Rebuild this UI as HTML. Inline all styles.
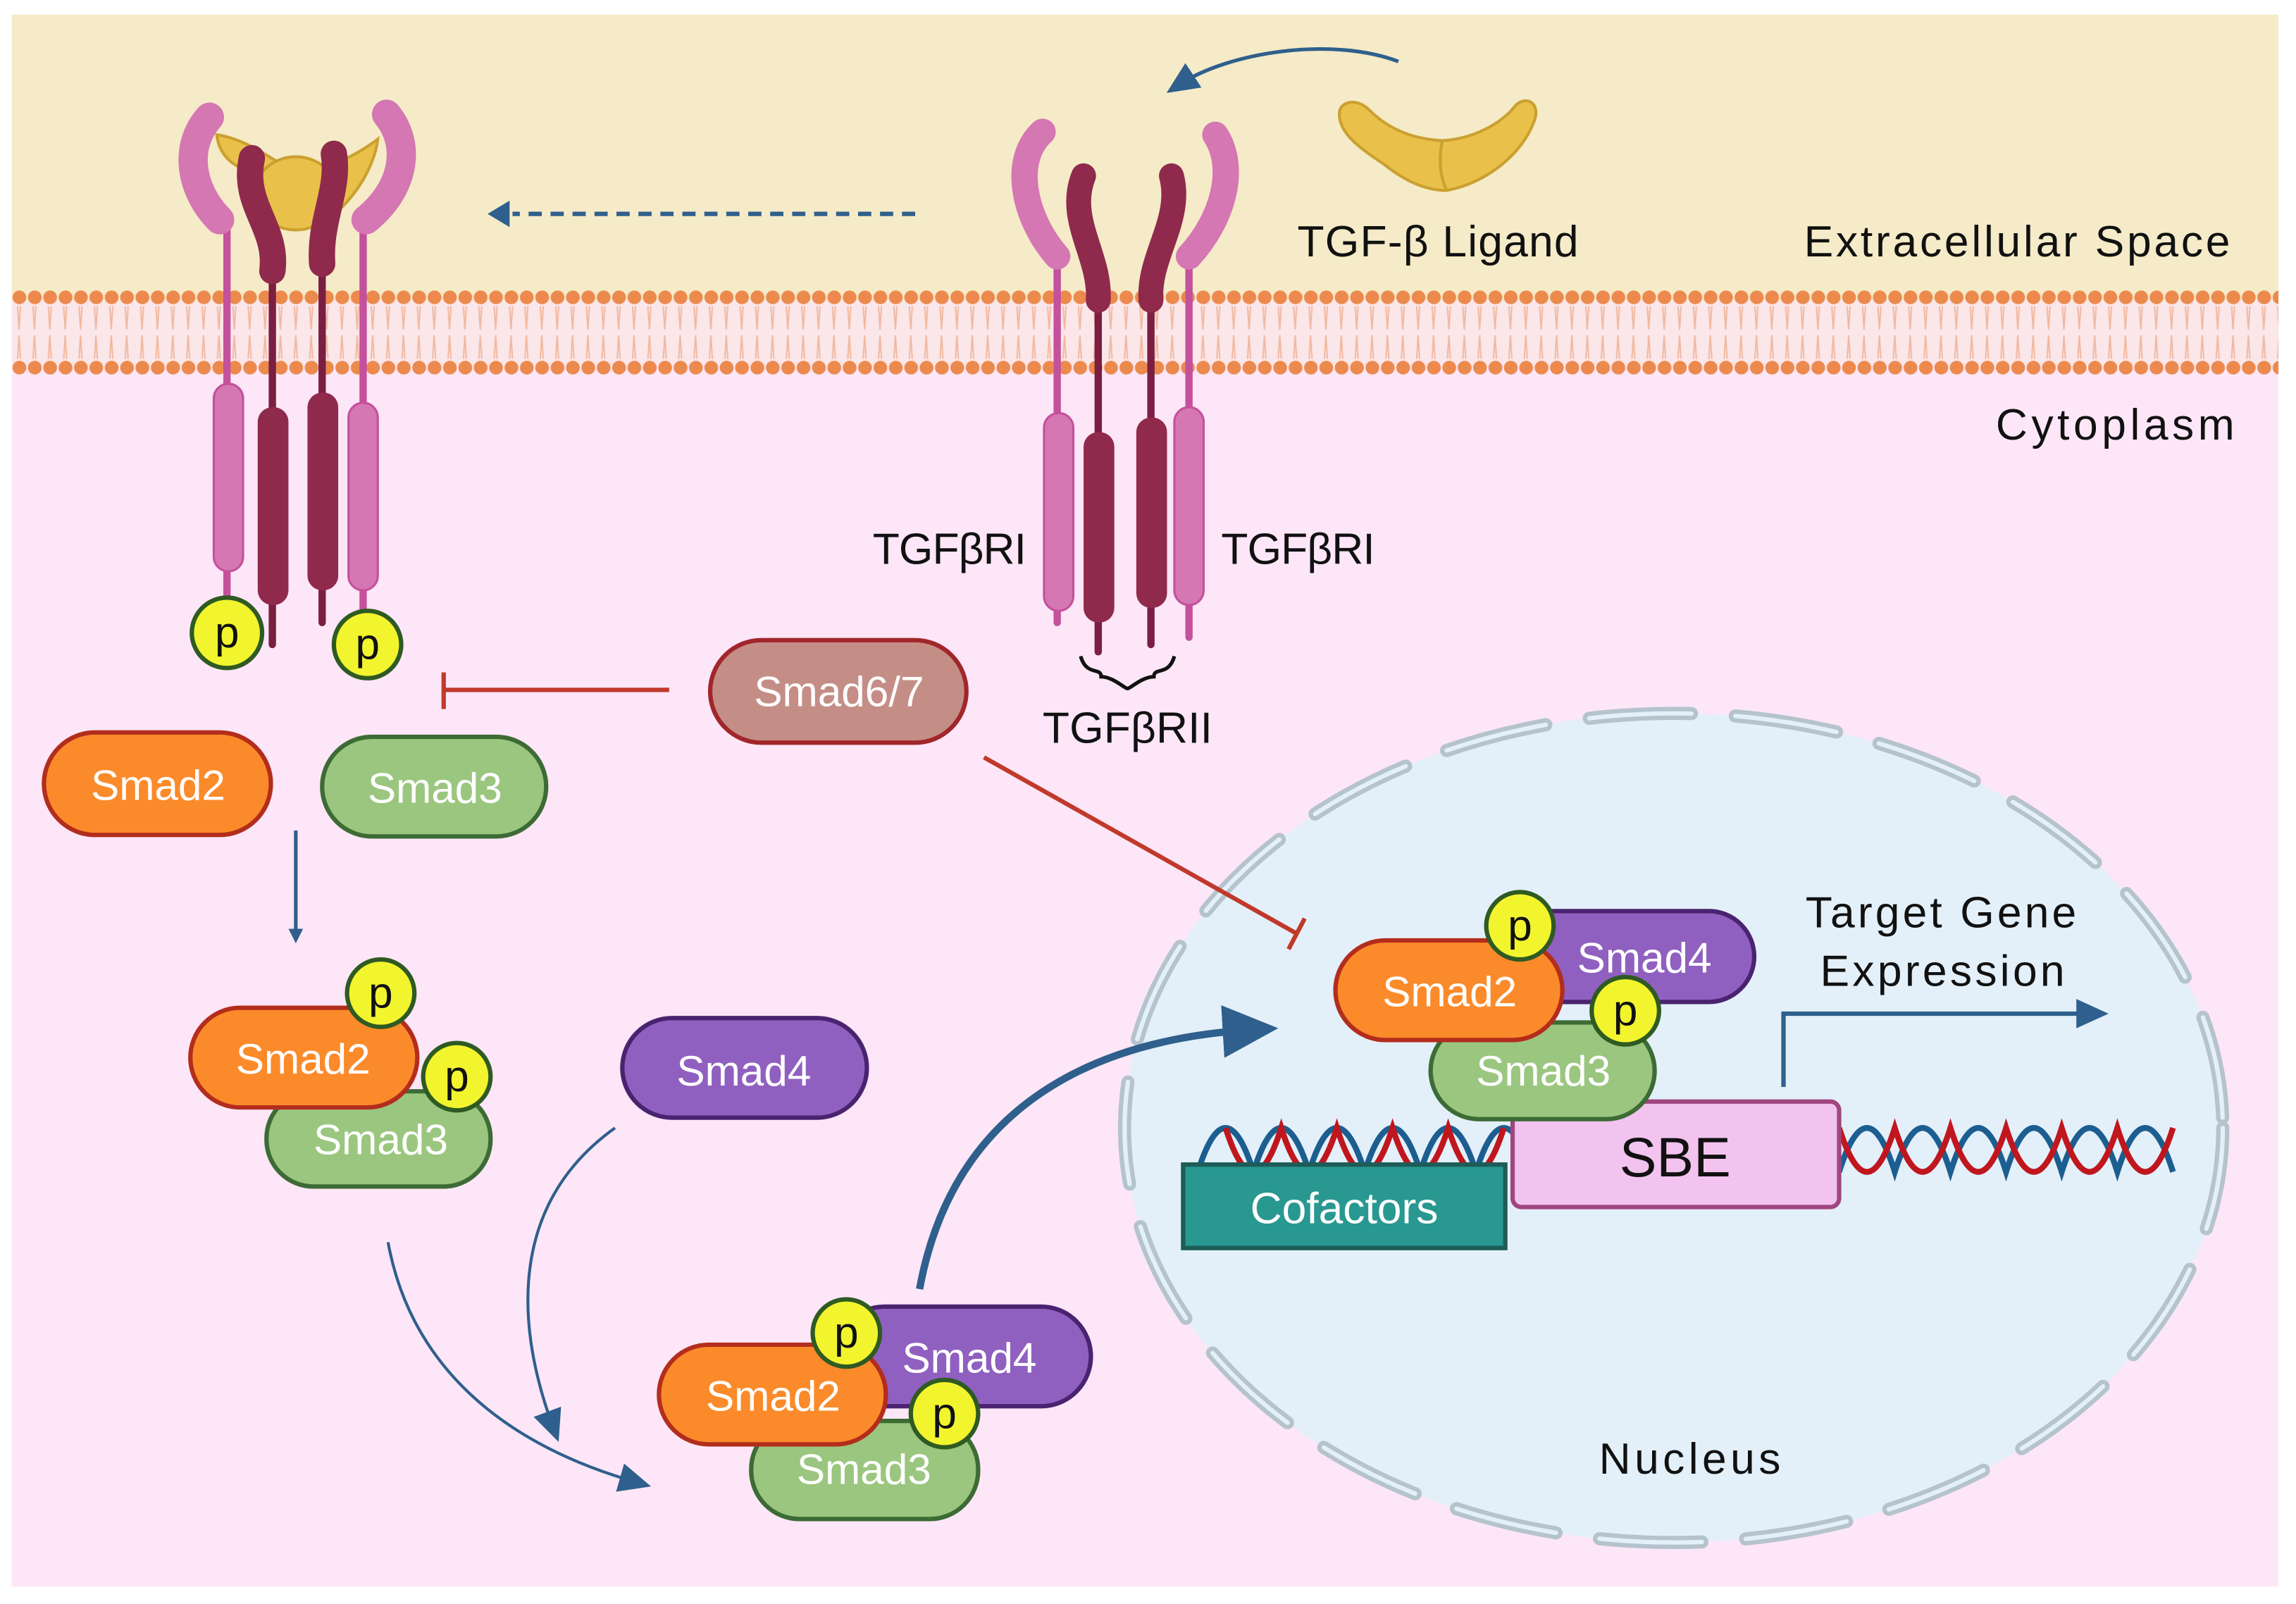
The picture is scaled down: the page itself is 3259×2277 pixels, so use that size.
<!DOCTYPE html>
<html><head><meta charset="utf-8"><style>html,body{margin:0;padding:0;background:#fff}svg{display:block}text{font-family:"Liberation Sans",sans-serif}</style></head><body>
<svg width="3259" height="2277" viewBox="0 0 1568 1095" preserveAspectRatio="none" xmlns="http://www.w3.org/2000/svg">
<defs>
<pattern id="lip" x="8" y="197" width="10.5" height="12" patternUnits="userSpaceOnUse">
<circle cx="5.25" cy="6" r="4.7" fill="#ec8a4e"/>
</pattern>
<pattern id="lip2" x="8" y="245" width="10.5" height="12" patternUnits="userSpaceOnUse">
<circle cx="5.25" cy="6" r="4.7" fill="#ec8a4e"/>
</pattern>
<pattern id="tail" x="8" y="209" width="10.5" height="36" patternUnits="userSpaceOnUse">
<path d="M4,0 L5,16 L6,0 M4,36 L5,20 L6,36" stroke="#f2b9a0" stroke-width="1" fill="none"/>
</pattern>
<marker id="ah" markerWidth="10" markerHeight="10" refX="6" refY="5" orient="auto" markerUnits="userSpaceOnUse"><path d="M0,0 L10,5 L0,10 Z" fill="#2f5f8c"/></marker>
<marker id="ahb" markerWidth="40" markerHeight="40" refX="20" refY="20" orient="auto" markerUnits="userSpaceOnUse"><path d="M0,2 L38,20 L0,38 Z" fill="#2f5f8c"/></marker>
<marker id="ahm" markerWidth="24" markerHeight="24" refX="12" refY="12" orient="auto" markerUnits="userSpaceOnUse"><path d="M0,2 L22,12 L0,22 Z" fill="#2f5f8c"/></marker>
</defs>
<rect x="8" y="10" width="1548" height="1073" fill="#fce6f7"/>
<rect x="8" y="10" width="1548" height="195" fill="#f5ebc8"/>
<!-- membrane -->
<rect x="8" y="205" width="1548" height="45" fill="#fbe6ea"/>
<rect x="8" y="209" width="1548" height="36" fill="url(#tail)"/>
<rect x="8" y="197" width="1548" height="12" fill="url(#lip)"/>
<rect x="8" y="245" width="1548" height="12" fill="url(#lip2)"/>
<!-- nucleus -->
<ellipse cx="1143" cy="770" rx="375" ry="283" fill="#e3f0f9"/>
<ellipse cx="1143" cy="770" rx="375" ry="283" fill="none" stroke="#b5c3cd" stroke-width="9" stroke-dasharray="70 30" stroke-linecap="round"/>
<ellipse cx="1143" cy="770" rx="375" ry="283" fill="none" stroke="#e3f0f9" stroke-width="3" stroke-dasharray="70 30" stroke-linecap="round"/>
<!-- left receptor complex -->
<g stroke-linecap="round" fill="none">
<line x1="155" y1="150" x2="155" y2="415" stroke="#c4519b" stroke-width="5"/>
<line x1="248" y1="150" x2="248" y2="420" stroke="#c4519b" stroke-width="5"/>
<line x1="186" y1="180" x2="186" y2="440" stroke="#7a1e42" stroke-width="5"/>
<line x1="220" y1="180" x2="220" y2="425" stroke="#7a1e42" stroke-width="5"/>
<path d="M143,80 C125,100 130,130 150,150" stroke="#d577b3" stroke-width="20"/>
<path d="M264,78 C282,100 275,130 250,150" stroke="#d577b3" stroke-width="20"/>
</g>
<path d="M148,92 C150,110 165,118 185,120 C200,125 205,145 212,155 C232,150 255,120 258,95 C245,105 225,115 205,120 C190,112 170,95 148,92 Z" fill="#e9c14a" stroke="#caa030" stroke-width="2"/>
<ellipse cx="202" cy="132" rx="28" ry="25" fill="#e9c14a" stroke="#caa030" stroke-width="2"/>
<g stroke-linecap="round" fill="none" stroke="#8f2a4c" stroke-width="18">
<path d="M172,108 C165,140 190,155 186,185"/>
<path d="M228,105 C232,130 218,150 220,180"/>
</g>
<g fill="#d577b3" stroke="#c4519b" stroke-width="1.5">
<rect x="146" y="262" width="20" height="128" rx="10"/>
<rect x="238" y="275" width="20" height="128" rx="10"/>
</g>
<g fill="#8f2a4c">
<rect x="176" y="278" width="21" height="135" rx="10"/>
<rect x="210" y="268" width="21" height="135" rx="10"/>
</g>
<!-- right receptor -->
<g stroke-linecap="round" fill="none">
<line x1="722" y1="170" x2="722" y2="425" stroke="#c4519b" stroke-width="5"/>
<line x1="812" y1="170" x2="812" y2="435" stroke="#c4519b" stroke-width="5"/>
<line x1="750" y1="200" x2="750" y2="445" stroke="#7a1e42" stroke-width="5"/>
<line x1="786" y1="200" x2="786" y2="440" stroke="#7a1e42" stroke-width="5"/>
<path d="M712,90 C690,110 700,150 722,175" stroke="#d577b3" stroke-width="18"/>
<path d="M830,92 C845,115 835,150 812,175" stroke="#d577b3" stroke-width="18"/>
</g>
<g stroke-linecap="round" fill="none" stroke="#8f2a4c" stroke-width="17">
<path d="M740,120 C728,150 752,175 750,205"/>
<path d="M800,120 C808,150 784,175 786,205"/>
</g>
<g fill="#d577b3" stroke="#c4519b" stroke-width="1.5">
<rect x="713" y="282" width="20" height="135" rx="10"/>
<rect x="802" y="278" width="20" height="135" rx="10"/>
</g>
<g fill="#8f2a4c">
<rect x="740" y="295" width="21" height="130" rx="10"/>
<rect x="776" y="285" width="21" height="130" rx="10"/>
</g>
<path d="M738,448 C742,462 752,455 752,462 C760,462 768,470 770,470 C772,470 780,462 788,462 C788,455 798,462 802,448" fill="none" stroke="#111" stroke-width="2.5"/>
<!-- ligand -->
<path d="M915,75 C918,68 928,68 935,75 C948,88 965,95 985,96 C1005,95 1025,85 1035,72 C1042,65 1052,70 1048,82 C1040,105 1015,125 988,130 C970,130 955,120 945,112 C930,102 912,90 915,75 Z" fill="#e9c14a" stroke="#caa030" stroke-width="2"/>
<path d="M985,96 C982,110 984,122 988,130" fill="none" stroke="#caa030" stroke-width="2"/>
<path d="M955,42 C910,25 840,35 805,58" fill="none" stroke="#2f5f8c" stroke-width="2.5" marker-end="url(#ahm)"/>
<!-- dashed arrow -->
<line x1="625" y1="146" x2="350" y2="146" stroke="#2f5f8c" stroke-width="3" stroke-dasharray="9 6"/>
<path d="M348,137 L333,146 L348,155 Z" fill="#2f5f8c"/>
<!-- labels -->
<g font-size="30" fill="#111">
<text x="886" y="175" textLength="192">TGF-β Ligand</text>
<text x="1232" y="175" textLength="291">Extracellular Space</text>
<text x="1363" y="300" textLength="163">Cytoplasm</text>
<text x="596" y="385" textLength="105">TGFβRI</text>
<text x="834" y="385" textLength="105">TGFβRI</text>
<text x="712" y="507" textLength="116">TGFβRII</text>
<text x="1233" y="633" textLength="185">Target Gene</text>
<text x="1243" y="673" textLength="167">Expression</text>
<text x="1092" y="1006" textLength="124">Nucleus</text>
</g>
<!-- inhibition lines -->
<g stroke="#c0392b" stroke-width="3" fill="none">
<line x1="457" y1="471" x2="303" y2="471"/><line x1="303" y1="459" x2="303" y2="484"/>
<line x1="672" y1="517" x2="885" y2="637"/><line x1="880" y1="648" x2="891" y2="627"/>
</g>
<!-- arrows -->
<g stroke="#2f5f8c" fill="none">
<line x1="202" y1="567" x2="202" y2="640" stroke-width="2.5" marker-end="url(#ah)"/>
<path d="M265,848 C280,930 340,985 435,1012" stroke-width="2" marker-end="url(#ahm)"/>
<path d="M420,770 C350,820 350,900 378,975" stroke-width="2" marker-end="url(#ahm)"/>
<path d="M628,880 C650,760 740,710 855,703" stroke-width="5" marker-end="url(#ahb)"/>
<path d="M1218,742 V692 H1430" stroke-width="3" marker-end="url(#ahm)"/>
</g>
<!-- DNA -->
<g fill="none" stroke-width="4">
<path d="M818,800 q19,-60 38,0 q19,-60 38,0 q19,-60 38,0 q19,-60 38,0 q19,-60 38,0 q19,-60 38,0" stroke="#1d5e90"/>
<path d="M837,770 q19,60 38,0 q19,60 38,0 q19,60 38,0 q19,60 38,0 q19,60 38,0" stroke="#c0161e"/>
<path d="M1256,800 q19,-60 38,0 q19,-60 38,0 q19,-60 38,0 q19,-60 38,0 q19,-60 38,0 q19,-60 38,0" stroke="#1d5e90"/>
<path d="M1256,770 q19,60 38,0 q19,60 38,0 q19,60 38,0 q19,60 38,0 q19,60 38,0 q19,60 38,0" stroke="#c0161e"/>
</g>
<rect x="1033" y="752" width="223" height="72" rx="6" fill="#f2c3ef" stroke="#a0467f" stroke-width="3"/>
<text x="1144" y="803" font-size="38" text-anchor="middle" fill="#111">SBE</text>
<rect x="808" y="795" width="220" height="57" fill="#289891" stroke="#1d5c57" stroke-width="3"/>
<text x="918" y="835" font-size="30" text-anchor="middle" fill="#fff">Cofactors</text>
<!-- smads -->
<g font-size="29" text-anchor="middle" fill="#fff" stroke-width="3">
<rect x="30" y="500" width="155" height="70" rx="35" fill="#fb8a2a" stroke="#b32d1d"/><text x="108" y="546">Smad2</text>
<rect x="220" y="503" width="153" height="68" rx="34" fill="#9bc67f" stroke="#3d6b35"/><text x="297" y="548">Smad3</text>
<rect x="485" y="437" width="175" height="70" rx="35" fill="#c48e87" stroke="#a1262a"/><text x="573" y="482">Smad6/7</text>
<rect x="425" y="695" width="167" height="68" rx="34" fill="#9060c0" stroke="#4a2370"/><text x="508" y="741">Smad4</text>
<rect x="182" y="745" width="153" height="65" rx="32" fill="#9bc67f" stroke="#3d6b35"/><text x="260" y="788">Smad3</text>
<rect x="130" y="688" width="155" height="68" rx="34" fill="#fb8a2a" stroke="#b32d1d"/><text x="207" y="733">Smad2</text>
<rect x="570" y="892" width="175" height="68" rx="34" fill="#9060c0" stroke="#4a2370"/><text x="662" y="937">Smad4</text>
<rect x="513" y="970" width="155" height="67" rx="33" fill="#9bc67f" stroke="#3d6b35"/><text x="590" y="1013">Smad3</text>
<rect x="450" y="918" width="155" height="68" rx="34" fill="#fb8a2a" stroke="#b32d1d"/><text x="528" y="963">Smad2</text>
<rect x="1030" y="622" width="168" height="62" rx="31" fill="#9060c0" stroke="#4a2370"/><text x="1123" y="664">Smad4</text>
<rect x="977" y="698" width="153" height="66" rx="33" fill="#9bc67f" stroke="#3d6b35"/><text x="1054" y="741">Smad3</text>
<rect x="912" y="642" width="155" height="68" rx="34" fill="#fb8a2a" stroke="#b32d1d"/><text x="990" y="687">Smad2</text>
</g>
<!-- p circles -->
<g font-size="30" text-anchor="middle" fill="#111">
<g fill="#f2f52e" stroke="#2f5a22" stroke-width="3">
<circle cx="155" cy="432" r="24"/><circle cx="251" cy="440" r="23"/>
<circle cx="260" cy="678" r="23"/><circle cx="312" cy="735" r="23"/>
<circle cx="578" cy="910" r="23"/><circle cx="645" cy="965" r="23"/>
<circle cx="1038" cy="632" r="23"/><circle cx="1110" cy="690" r="23"/>
</g>
<text x="155" y="442">p</text><text x="251" y="450">p</text>
<text x="260" y="688">p</text><text x="312" y="745">p</text>
<text x="578" y="920">p</text><text x="645" y="975">p</text>
<text x="1038" y="642">p</text><text x="1110" y="700">p</text>
</g>
</svg>
</body></html>
